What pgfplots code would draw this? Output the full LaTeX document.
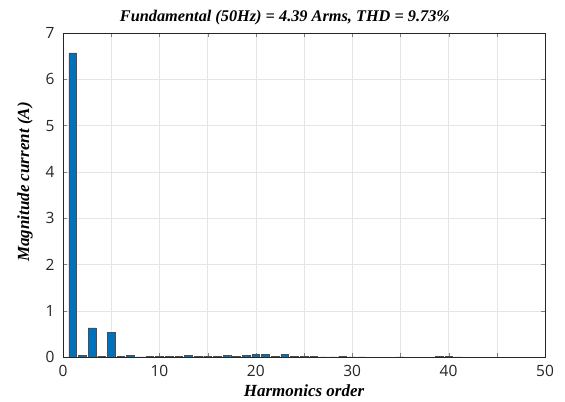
\documentclass[border=0pt]{standalone}
\usepackage{fontspec}
\setmainfont{Liberation Serif}
\newfontfamily\tickfont{Open Sans}
\usepackage{pgfplots}
\pgfplotsset{compat=1.18}
\definecolor{mblue}{rgb}{0,0.447,0.741}
\definecolor{tickc}{rgb}{0.15,0.15,0.15}
\begin{document}
\begin{tikzpicture}
\begin{axis}[
  name=ax,
  scale only axis,
  width=482pt, height=324pt,
  xmin=0, xmax=50, ymin=0, ymax=7,
  xtick={0,10,...,50},
  minor xtick={5,15,...,45},
  ytick={0,1,...,7},
  grid=both,
  major grid style={gray!20},
  minor grid style={gray!20},
  tick align=inside,
  major tick length=4pt,
  minor tick length=4pt,
  axis line style={black!85},
  /pgf/number format/assume math mode=true,
  tick label style={font=\tickfont\fontsize{15.5}{17}\selectfont, text=tickc},
  xticklabel style={yshift=-5pt},
  yticklabel style={xshift=-5pt},
  title={\bfseries\itshape Fundamental (50Hz) = 4.39 Arms, THD = 9.73\%},
  title style={font=\fontsize{16.3}{19}\selectfont, yshift=-2pt, xshift=-19pt},
  xlabel={\bfseries\itshape Harmonics order},
  ylabel={\bfseries\itshape Magnitude current (A)},
  label style={font=\fontsize{17}{19}\selectfont},
  xlabel style={yshift=-1pt},
  ylabel style={at={(ticklabel cs:0.54)}, yshift=6pt},
]
\addplot[ybar, bar width=0.8, fill=mblue, draw=black!70, line width=0.4pt] coordinates {
(1,6.57) (2,0.04) (3,0.63) (4,0.02) (5,0.54) (6,0.01) (7,0.03) (8,0.005)
(9,0.02) (10,0.01) (11,0.02) (12,0.01) (13,0.03) (14,0.01) (15,0.02) (16,0.01)
(17,0.04) (18,0.01) (19,0.04) (20,0.05) (21,0.05) (22,0.01) (23,0.05) (24,0.02)
(25,0.02) (26,0.02) (27,0.005) (28,0.005) (29,0.02) (30,0.005) (31,0.005)
(35,0.005) (39,0.02) (40,0.01) (41,0.005)
};
\end{axis}
\pgfresetboundingbox
\path ([xshift=-63pt,yshift=-45pt]ax.south west) rectangle ([xshift=20pt,yshift=33pt]ax.north east);
\end{tikzpicture}
\end{document}
